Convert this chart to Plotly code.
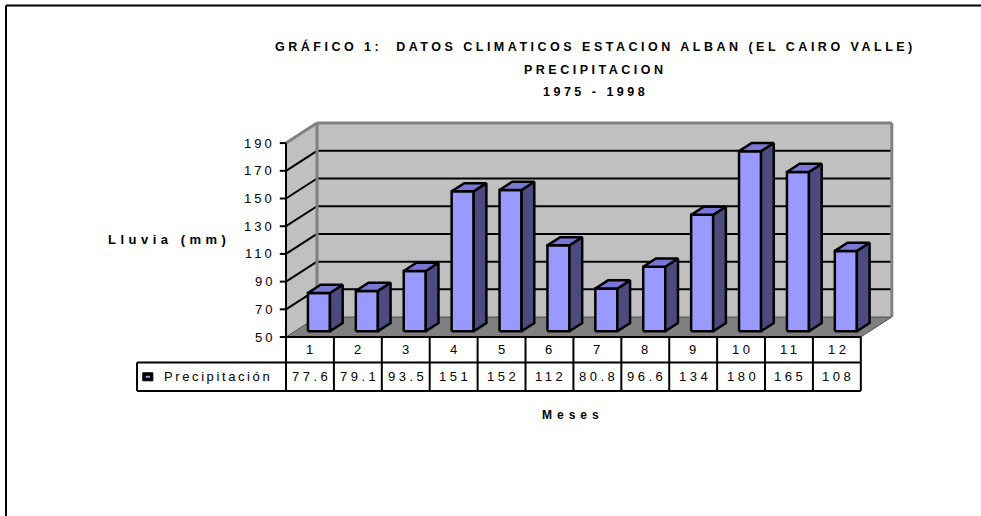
import plotly.graph_objects as go

# ---------------- data ----------------
months = ["1", "2", "3", "4", "5", "6", "7", "8", "9", "10", "11", "12"]
precip = [77.6, 79.1, 93.5, 151, 152, 112, 80.8, 96.6, 134, 180, 165, 108]
value_labels = ["77.6", "79.1", "93.5", "151", "152", "112", "80.8", "96.6", "134", "180", "165", "108"]
y_ticks = [50, 70, 90, 110, 130, 150, 170, 190]
series_name = "Precipitación"
title_lines = ["GRÁFICO 1:  DATOS CLIMATICOS ESTACION ALBAN (EL CAIRO VALLE)",
               "PRECIPITACION", "1975 - 1998"]
y_title = "Lluvia (mm)"
x_title = "Meses"

# ---------------- geometry / style ----------------
W, H = 981, 516
X_RANGE = [-5.971, 14.509]
Y_RANGE = [-79.2, 293.3]
YMIN, YMAX = 50, 190
DX, DY = 0.647, 14.43          # 3-D depth offset (category units, value units)
BW = 0.46                      # bar front width
F1, F2 = 0.29, 0.70            # bar depth span
ROW1, ROW2 = 31.6, 11.0        # table row boundaries (value units)
LEG_X = -3.11                  # legend cell left edge
FONT = "Arial, Liberation Sans, sans-serif"
FRONT, SIDE, TOP = "#9999FF", "#4B4B80", "#7878D4"
WALL, FLOOR, EDGE = "#C0C0C0", "#808080", "#808080"


def sp(text, s=3):
    return f'<span style="letter-spacing:{s}px">{text}</span>'


fig = go.Figure()
shapes = []
ann = []

# walls and floor
n = len(months)
shapes.append(dict(type="path", layer="below", line=dict(width=0), fillcolor=WALL,
                   path=f"M0,{YMIN} L0,{YMAX} L{DX},{YMAX+DY} L{DX},{YMIN+DY} Z",
                   xref="x", yref="y"))
shapes.append(dict(type="rect", layer="below", line=dict(width=0), fillcolor=WALL,
                   x0=DX, x1=n + DX, y0=YMIN + DY, y1=YMAX + DY, xref="x", yref="y"))
shapes.append(dict(type="path", layer="below", line=dict(color="#505050", width=1), fillcolor=FLOOR,
                   path=f"M0,{YMIN} L{n},{YMIN} L{n+DX},{YMIN+DY} L{DX},{YMIN+DY} Z",
                   xref="x", yref="y"))
# gridlines
for v in y_ticks[1:-1]:
    shapes.append(dict(type="line", layer="below", xref="x", yref="y", x0=0, y0=v, x1=DX, y1=v + DY,
                       line=dict(color="black", width=2)))
    shapes.append(dict(type="line", layer="below", xref="x", yref="y", x0=DX, y0=v + DY,
                       x1=n + DX, y1=v + DY, line=dict(color="black", width=2)))
# wall edges (gray)
for (xa, ya, xb, yb) in [(0, YMAX, DX, YMAX + DY), (DX, YMAX + DY, n + DX, YMAX + DY),
                         (DX, YMIN + DY, DX, YMAX + DY),
                         (n + DX, YMIN + DY, n + DX, YMAX + DY)]:
    shapes.append(dict(type="line", layer="below", xref="x", yref="y", x0=xa, y0=ya, x1=xb, y1=yb,
                       line=dict(color=EDGE, width=3)))

# y axis line + ticks + labels
shapes.append(dict(type="line", xref="x", yref="y", x0=0, y0=YMIN, x1=0, y1=YMAX,
                   line=dict(color="black", width=2)))
for v in y_ticks:
    shapes.append(dict(type="line", xref="x", yref="y", x0=-0.13, y0=v, x1=0, y1=v,
                       line=dict(color="black", width=2)))
    ann.append(dict(x=-0.19, y=v, xref="x", yref="y", text=sp(str(v), 3), showarrow=False,
                    xanchor="right", yanchor="middle", font=dict(family=FONT, size=13, color="black")))

# data table
shapes.append(dict(type="line", xref="x", yref="y", x0=0, y0=YMIN, x1=n, y1=YMIN,
                   line=dict(color="black", width=2)))
for yy in (ROW1, ROW2):
    shapes.append(dict(type="line", xref="x", yref="y", x0=LEG_X, y0=yy, x1=n, y1=yy,
                       line=dict(color="black", width=2)))
for i in range(n + 1):
    shapes.append(dict(type="line", xref="x", yref="y", x0=i, y0=YMIN, x1=i, y1=ROW2,
                       line=dict(color="black", width=2)))
shapes.append(dict(type="line", xref="x", yref="y", x0=LEG_X, y0=ROW1, x1=LEG_X, y1=ROW2,
                   line=dict(color="black", width=2)))
for i, (m, lab) in enumerate(zip(months, value_labels)):
    ann.append(dict(x=i + 0.53, y=(YMIN + ROW1) / 2, xref="x", yref="y", text=sp(m, 3.5),
                    showarrow=False, xanchor="center", yanchor="middle",
                    font=dict(family=FONT, size=13, color="black")))
    ann.append(dict(x=i + 0.53, y=(ROW1 + ROW2) / 2, xref="x", yref="y", text=sp(lab, 3.5),
                    showarrow=False, xanchor="center", yanchor="middle",
                    font=dict(family=FONT, size=13, color="black")))
# legend key + name
yc = (ROW1 + ROW2) / 2
shapes.append(dict(type="rect", xref="x", yref="y", x0=LEG_X + 0.12, x1=LEG_X + 0.33,
                   y0=yc - 2.9, y1=yc + 2.9, fillcolor="black", line=dict(color="black", width=1)))
shapes.append(dict(type="line", xref="x", yref="y", x0=LEG_X + 0.18, x1=LEG_X + 0.27,
                   y0=yc, y1=yc, line=dict(color=FRONT, width=2)))
ann.append(dict(x=LEG_X + 0.52, y=yc, xref="x", yref="y", text=sp(series_name, 2.6),
                showarrow=False, xanchor="left", yanchor="middle",
                font=dict(family=FONT, size=13, color="black")))

# 3-D bars built from the data
fx, fy, sx, sy, tx, ty = [], [], [], [], [], []
ddx, ddy = DX * (F2 - F1), DY * (F2 - F1)
for i, v in enumerate(precip):
    x0 = i + 0.5 - BW / 2 + DX * F1
    x1 = x0 + BW
    yb = YMIN + DY * F1
    yt = v + DY * F1
    fx += [x0, x1, x1, x0, x0, None]
    fy += [yb, yb, yt, yt, yb, None]
    sx += [x1, x1 + ddx, x1 + ddx, x1, x1, None]
    sy += [yb, yb + ddy, yt + ddy, yt, yb, None]
    tx += [x0, x1, x1 + ddx, x0 + ddx, x0, None]
    ty += [yt, yt, yt + ddy, yt + ddy, yt, None]
for xs, ys, col in [(fx, fy, FRONT), (sx, sy, SIDE), (tx, ty, TOP)]:
    fig.add_trace(go.Scatter(x=xs, y=ys, mode="lines", fill="toself", fillcolor=col,
                             line=dict(color="black", width=2.5), hoverinfo="skip",
                             showlegend=False, name=series_name))

# titles
for text, py in zip(title_lines, [47, 70, 92]):
    ann.append(dict(x=(594 + 1.75) / W, y=1 - py / H, xref="paper", yref="paper", text=sp(text, 3.5),
                    showarrow=False, xanchor="center", yanchor="middle",
                    font=dict(family=FONT, size=12.5, color="black", weight="bold")))
ann.append(dict(x=(167 + 2.2) / W, y=1 - 240 / H, xref="paper", yref="paper", text=sp(y_title, 4.5),
                showarrow=False, xanchor="center", yanchor="middle",
                font=dict(family=FONT, size=13, color="black", weight="bold")))
ann.append(dict(x=(570 + 2.5) / W, y=1 - 415 / H, xref="paper", yref="paper", text=sp(x_title, 5),
                showarrow=False, xanchor="center", yanchor="middle",
                font=dict(family=FONT, size=12, color="black", weight="bold")))

# outer frame
shapes.append(dict(type="line", xref="paper", yref="paper", x0=6 / W, y0=1 - 5.5 / H, x1=1, y1=1 - 5.5 / H,
                   line=dict(color="black", width=2)))
shapes.append(dict(type="line", xref="paper", yref="paper", x0=6 / W, y0=1 - 5.5 / H, x1=6 / W, y1=0,
                   line=dict(color="black", width=2)))

fig.update_layout(
    width=W, height=H, margin=dict(l=0, r=0, t=0, b=0),
    paper_bgcolor="white", plot_bgcolor="white",
    xaxis=dict(range=X_RANGE, visible=False, fixedrange=True),
    yaxis=dict(range=Y_RANGE, visible=False, fixedrange=True),
    shapes=shapes, annotations=ann, showlegend=False,
)
fig.write_html("out.html", config={"displayModeBar": False},
               post_script="document.body.style.margin='0px';document.body.style.overflow='hidden';")
